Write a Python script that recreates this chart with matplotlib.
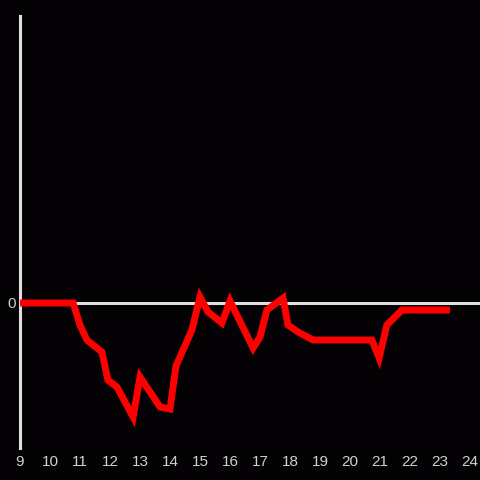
import matplotlib
matplotlib.use("Agg")
import matplotlib.pyplot as plt

# hours of day and value
hours = [9.0, 10.77, 11.0, 11.23, 11.73, 11.93, 12.23, 12.77, 13.0, 13.67, 14.0,
         14.2, 14.73, 15.0, 15.27, 15.73, 16.0, 16.77, 17.0, 17.23, 17.77, 17.93,
         18.27, 18.77, 20.73, 20.97, 21.23, 21.73, 23.33]
values = [0, 0, -22, -37, -49, -77, -84, -114, -74, -104, -106,
          -63, -27, 6, -9, -20, 2, -45, -34, -7, 5, -22,
          -29, -37, -37, -55, -22, -7, -7]
x_ticks = list(range(9, 25))

bg = "#040205"
fig = plt.figure(figsize=(4.8, 4.8), dpi=100, facecolor=bg)
ax = fig.add_axes([20 / 480, 32 / 480, 460 / 480, 432 / 480])
ax.set_facecolor(bg)

ax.set_xlim(9, 9 + 460 / 30)
ax.set_ylim(-145, 287)

# zero line
ax.axhline(0, color="#e0e0e0", linewidth=2.2, zorder=1)
ax.plot(hours, values, color="#ff0000", linewidth=5, solid_joinstyle="miter",
        solid_capstyle="butt", zorder=3, clip_on=False)

for side in ["top", "right", "bottom"]:
    ax.spines[side].set_visible(False)
ax.spines["left"].set_color("#e0e0e0")
ax.spines["left"].set_linewidth(2.2)

ax.set_xticks(x_ticks)
ax.set_xticklabels([str(h) for h in x_ticks])
ax.set_yticks([0])
ax.set_yticklabels(["0"])
ax.tick_params(length=0, colors="#d0d0d0", labelsize=11)
ax.tick_params(axis="x", pad=5)
ax.tick_params(axis="y", pad=3)
for lbl in ax.get_xticklabels() + ax.get_yticklabels():
    lbl.set_family("Liberation Sans")

fig.savefig("out.png", dpi=100, facecolor=bg)
